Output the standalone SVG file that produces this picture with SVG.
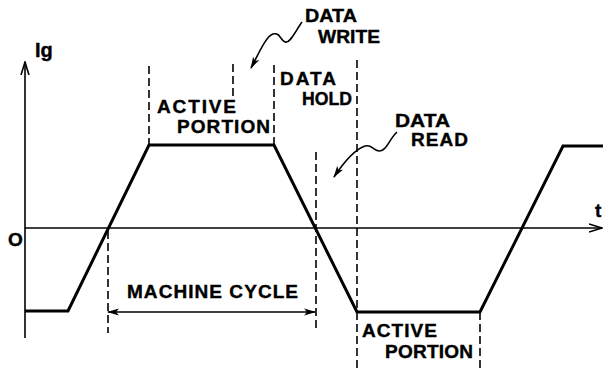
<svg xmlns="http://www.w3.org/2000/svg" width="603" height="378" viewBox="0 0 603 378">
<defs>
<marker id="ah" viewBox="0 0 12 8" refX="11" refY="4" markerWidth="12" markerHeight="8" markerUnits="userSpaceOnUse" orient="auto-start-reverse">
<path d="M0,0.5 L12,4 L0,7.5 L3,4 Z" fill="#000"/>
</marker>
<marker id="ax" viewBox="0 0 14 10" refX="13" refY="5" markerWidth="14" markerHeight="10" markerUnits="userSpaceOnUse" orient="auto">
<path d="M0,1 L13,5 L0,9" fill="none" stroke="#000" stroke-width="1.6"/>
</marker>
<style>
.t{font-family:"Liberation Sans",Arial,sans-serif;font-weight:bold;font-size:19px;fill:#000;stroke:#000;stroke-width:0.4}
.dash{stroke:#000;stroke-width:1.6;stroke-dasharray:8 4;fill:none}
.axis{stroke:#000;stroke-width:1.6;fill:none}
.wave{stroke:#000;stroke-width:3;fill:none;stroke-linejoin:miter}
.sq{stroke:#000;stroke-width:1.6;fill:none}
</style>
</defs>
<rect width="603" height="378" fill="#fff"/>

<g id="axes">
<line class="axis" x1="25" y1="338" x2="25" y2="62" marker-end="url(#ax)"/>
<line class="axis" x1="25" y1="228" x2="602" y2="228" marker-end="url(#ax)"/>
<text class="t" x="35" y="57" style="font-size:20px">Ig</text>
<text class="t" x="8" y="246">O</text>
<text class="t" x="595" y="217">t</text>
</g>

<g id="waveform">
<polyline class="wave" points="25,311 68,311 149,145 274,145 357,312 480,312 563,146 603,146"/>
</g>

<g id="connectors">
<line class="dash" x1="108" y1="231" x2="108" y2="333"/>
<line class="dash" x1="149" y1="66" x2="149" y2="145"/>
<line class="dash" x1="233" y1="64" x2="233" y2="97"/>
<line class="dash" x1="274" y1="65" x2="274" y2="145"/>
<line class="dash" x1="316" y1="152" x2="316" y2="332"/>
<line class="dash" x1="357" y1="60" x2="357" y2="372"/>
<line class="dash" x1="480" y1="312" x2="480" y2="372"/>
<line class="axis" x1="108" y1="312" x2="315" y2="312" marker-start="url(#ah)" marker-end="url(#ah)"/>
<path class="sq" d="M302,22 C296,30 290,44 285,42 C280,40 280,32 273,34 C266,36 258,55 251,68" marker-end="url(#ah)"/>
<path class="sq" d="M397,132 C390,138 386,152 379,151 C372,150 372,144 365,146 C356,149 344,162 334,177" marker-end="url(#ah)"/>
</g>

<g id="active-portion-top">
<text class="t" x="157" y="113" textLength="79" lengthAdjust="spacing">ACTIVE</text>
<text class="t" x="177" y="133" textLength="93" lengthAdjust="spacing">PORTION</text>
</g>
<g id="data-write">
<text class="t" x="305" y="22" textLength="52" lengthAdjust="spacingAndGlyphs">DATA</text>
<text class="t" x="318" y="43" textLength="62" lengthAdjust="spacingAndGlyphs">WRITE</text>
</g>
<g id="data-hold">
<text class="t" x="280" y="85" textLength="56" lengthAdjust="spacing">DATA</text>
<text class="t" x="302" y="105" textLength="50" lengthAdjust="spacingAndGlyphs">HOLD</text>
</g>
<g id="data-read">
<text class="t" x="395" y="127" textLength="55" lengthAdjust="spacingAndGlyphs">DATA</text>
<text class="t" x="411" y="146" textLength="57" lengthAdjust="spacing">READ</text>
</g>
<g id="machine-cycle">
<text class="t" x="127" y="298" textLength="171" lengthAdjust="spacing">MACHINE CYCLE</text>
</g>
<g id="active-portion-bottom">
<text class="t" x="362" y="337" textLength="75" lengthAdjust="spacing">ACTIVE</text>
<text class="t" x="385" y="358" textLength="88" lengthAdjust="spacing">PORTION</text>
</g>
</svg>
